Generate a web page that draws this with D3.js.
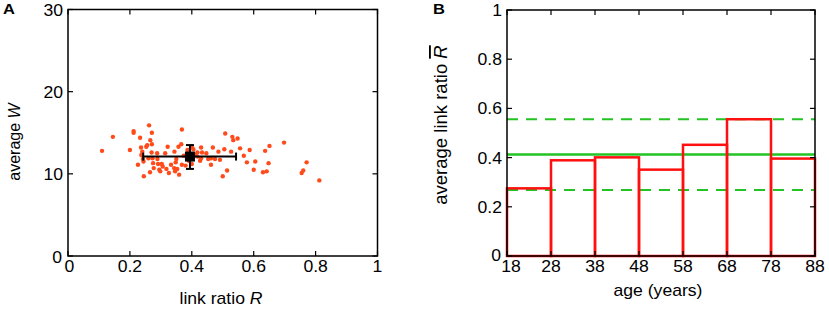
<!DOCTYPE html>
<html><head><meta charset="utf-8">
<script src="https://cdn.jsdelivr.net/npm/d3@7"></script>
<style>
html,body{margin:0;padding:0;background:#fff;}
svg text{font-family:"Liberation Sans",Arial,Helvetica,sans-serif;}
</style></head>
<body><svg id="c" width="829" height="310"></svg>
<script>
// ---------- Panel A data ----------
const linkRatio = [0.11,0.145,0.20,0.212,0.212,0.226,0.233,0.236,0.237,0.24,0.242,0.244,0.245,0.253,0.256,0.262,0.266,0.271,0.271,0.27,0.273,0.275,0.265,0.277,0.288,0.289,0.291,0.295,0.298,0.303,0.306,0.314,0.322,0.318,0.326,0.333,0.343,0.344,0.346,0.348,0.353,0.359,0.357,0.366,0.368,0.368,0.374,0.386,0.40,0.40,0.405,0.418,0.418,0.427,0.43,0.433,0.43,0.447,0.453,0.462,0.468,0.462,0.475,0.486,0.491,0.50,0.505,0.508,0.514,0.527,0.531,0.534,0.548,0.556,0.568,0.578,0.587,0.60,0.605,0.637,0.63,0.642,0.648,0.651,0.698,0.755,0.76,0.771,0.812,0.38,0.39,0.35,0.41,0.26];
const avgW =      [12.8,14.5,12.9,15.2,15.0,11.1,14.4,13.2,12.3,12.7,11.8,11.5,9.7,13.3,13.5,15.9,14.1,15.0,13.6,12.6,11.9,11.3,10.2,10.7,12.5,11.8,11.2,10.5,10.3,11.2,10.9,12.5,13.3,10.6,10.1,11.1,10.7,12.7,10.3,11.4,10.6,9.9,13.3,13.6,15.4,11.1,12.2,12.9,13.3,11.2,13.0,12.6,12.1,11.6,13.2,12.6,11.9,12.5,11.8,11.1,13.2,11.9,11.8,12.7,11.7,9.7,13.0,14.9,10.4,12.7,14.5,14.1,14.3,13.1,12.2,11.4,12.9,10.5,11.5,12.8,10.2,10.3,11.3,13.4,13.8,10.1,10.4,11.4,9.2,11.0,11.6,11.8,12.3,11.9];
const meanR = 0.394, meanW = 12.1;
const rErr = [0.243, 0.543];
const wErr = [10.6, 13.5];
const aXTicks = [0, 0.2, 0.4, 0.6, 0.8, 1];
const aYTicks = [0, 10, 20, 30];

// ---------- Panel B data ----------
const ageEdges = [18, 28, 38, 48, 58, 68, 78, 88];
const avgLinkRatio = [0.275, 0.389, 0.401, 0.351, 0.452, 0.556, 0.396];
const overallMean = 0.413;
const bandLow = 0.268, bandHigh = 0.556;
const bXTicks = [18, 28, 38, 48, 58, 68, 78, 88];
const bYTicks = [0, 0.2, 0.4, 0.6, 0.8, 1];

const svg = d3.select("#c");
const FS = "16px";
const SX = 1.1;
const TL = 5;

function txt(g, x, y, anchor, size) {
  return g.append("text").attr("transform", `translate(${x},${y}) scale(${SX},1)`)
    .attr("text-anchor", anchor).attr("font-size", size || FS);
}

function frame(g, x, y, xt, yt, xfmt, yfmt, firstShift, zeroDy) {
  const [x0, x1] = x.range(), [y1, y0] = y.range();
  xt.forEach(v => {
    g.append("line").attr("x1", x(v)).attr("x2", x(v)).attr("y1", y1).attr("y2", y1 - TL).attr("stroke", "#000").attr("stroke-width", 1.2);
    g.append("line").attr("x1", x(v)).attr("x2", x(v)).attr("y1", y0).attr("y2", y0 + TL).attr("stroke", "#000").attr("stroke-width", 1.2);
    txt(g, x(v) + (v === xt[0] ? firstShift : 0), 272, "middle").text(xfmt(v));
  });
  yt.forEach(v => {
    g.append("line").attr("x1", x0).attr("x2", x0 + TL).attr("y1", y(v)).attr("y2", y(v)).attr("stroke", "#000").attr("stroke-width", 1.2);
    g.append("line").attr("x1", x1).attr("x2", x1 - TL).attr("y1", y(v)).attr("y2", y(v)).attr("stroke", "#000").attr("stroke-width", 1.2);
    txt(g, x0 - 5 - (v === 0 ? 1 : 0), y(v) + 6 + (v === 0 ? zeroDy : 0), "end").text(yfmt(v));
  });
}

// ---------- Panel A ----------
const xA = d3.scaleLinear().domain([0, 1]).range([68, 377.5]);
const yA = d3.scaleLinear().domain([0, 30]).range([256, 9.5]);
const gA = svg.append("g");

gA.selectAll("circle.pt").data(linkRatio).join("circle").attr("class", "pt")
  .attr("cx", d => xA(d)).attr("cy", (d, i) => yA(avgW[i])).attr("r", 2.2)
  .attr("fill", "#ff4a1a");

gA.append("line").attr("x1", xA(rErr[0])).attr("x2", xA(rErr[1])).attr("y1", yA(meanW)).attr("y2", yA(meanW)).attr("stroke", "#000").attr("stroke-width", 2);
gA.append("line").attr("x1", xA(meanR)).attr("x2", xA(meanR)).attr("y1", yA(wErr[0])).attr("y2", yA(wErr[1])).attr("stroke", "#000").attr("stroke-width", 2);
rErr.forEach(v => gA.append("line").attr("x1", xA(v)).attr("x2", xA(v)).attr("y1", yA(meanW) - 4).attr("y2", yA(meanW) + 4).attr("stroke", "#000").attr("stroke-width", 2));
wErr.forEach(v => gA.append("line").attr("x1", xA(meanR) - 4).attr("x2", xA(meanR) + 4).attr("y1", yA(v)).attr("y2", yA(v)).attr("stroke", "#000").attr("stroke-width", 2));
gA.append("rect").attr("x", xA(meanR) - 5).attr("y", yA(meanW) - 5).attr("width", 10).attr("height", 10).attr("fill", "#000");

gA.append("rect").attr("x", 68).attr("y", 9.5).attr("width", 377.5 - 68).attr("height", 256 - 9.5).attr("fill", "none").attr("stroke", "#000").attr("stroke-width", 1.5);
frame(gA, xA, yA, aXTicks, aYTicks, d => d3.format("")(d), d => d, 1.5, 1);

txt(gA, 221, 304, "middle").html('link ratio <tspan font-style="italic">R</tspan>');
gA.append("text").attr("transform", "translate(20,142) rotate(-90)").attr("text-anchor", "middle").attr("font-size", FS)
  .html('average <tspan font-style="italic">W</tspan>');
txt(gA, 3, 14, "start", "15px").attr("font-weight", "bold").text("A");

// ---------- Panel B ----------
const xB = d3.scaleLinear().domain([18, 88]).range([507, 815]);
const yB = d3.scaleLinear().domain([0, 1]).range([256, 10]);
const gB = svg.append("g");

gB.append("line").attr("x1", xB(18)).attr("x2", xB(88)).attr("y1", yB(overallMean)).attr("y2", yB(overallMean)).attr("stroke", "#22c322").attr("stroke-width", 2.5);
[bandLow, bandHigh].forEach(v => gB.append("line").attr("x1", xB(18)).attr("x2", xB(88)).attr("y1", yB(v)).attr("y2", yB(v))
  .attr("stroke", "#22c322").attr("stroke-width", 2).attr("stroke-dasharray", "11,8"));

gB.selectAll("rect.bar").data(avgLinkRatio).join("rect").attr("class", "bar")
  .attr("x", (d, i) => xB(ageEdges[i])).attr("width", (d, i) => xB(ageEdges[i + 1]) - xB(ageEdges[i]))
  .attr("y", d => yB(d)).attr("height", d => yB(0) - yB(d))
  .attr("fill", "none").attr("stroke", "#ff1010").attr("stroke-width", 2.5);

gB.append("rect").attr("x", 507).attr("y", 10).attr("width", 815 - 507).attr("height", 256 - 10).attr("fill", "none").attr("stroke", "#000").attr("stroke-width", 1.5);
frame(gB, xB, yB, bXTicks, bYTicks, d => d, d => d3.format("")(d), 4, -1);

txt(gB, 658, 296, "middle").text("age (years)");
gB.append("text").attr("transform", "translate(447,125) rotate(-90)").attr("text-anchor", "middle").attr("font-size", "18.5px")
  .html('average link ratio <tspan font-style="italic" style="text-decoration:overline">R</tspan>');
txt(gB, 433, 14, "start", "15px").attr("font-weight", "bold").text("B");
</script></body></html>
